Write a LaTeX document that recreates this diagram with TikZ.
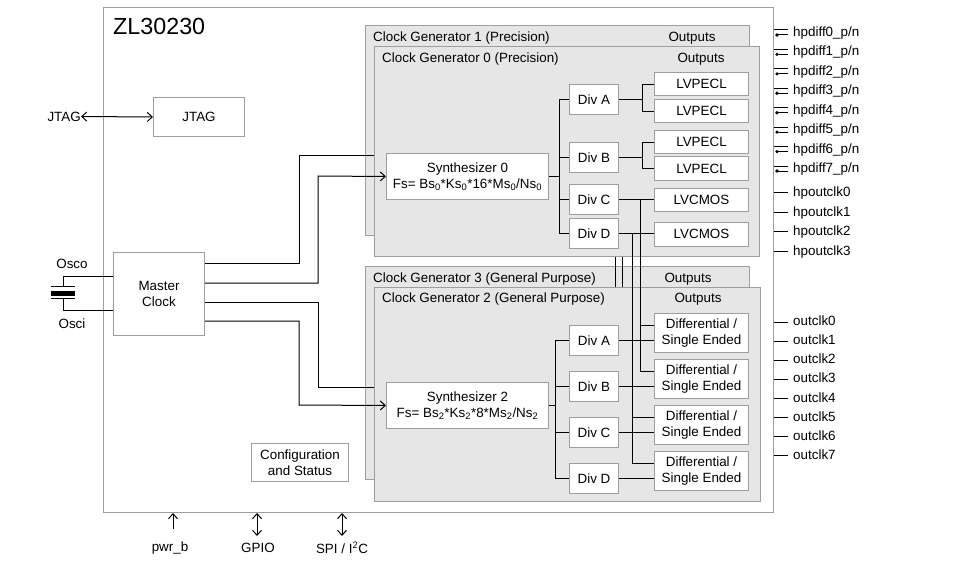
\documentclass[tikz,border=0pt]{standalone}
\usepackage{fontspec}
\setmainfont{Liberation Sans}
\usetikzlibrary{arrows.meta,calc}
\definecolor{frame}{HTML}{9E9E9E}
\definecolor{genfill}{HTML}{E6E6E6}
\tikzset{
  chip/.style={draw=frame, line width=1pt, anchor=north west, inner sep=0pt},
  gen/.style={draw=frame, fill=genfill, line width=1pt, anchor=north west, inner sep=0pt},
  blk/.style={draw=frame, fill=white, line width=1pt, anchor=north west, inner sep=0pt, align=center},
  divbox/.style={blk, minimum width=49pt, minimum height=30pt},
  outbox/.style={blk, minimum width=94pt, minimum height=23.5pt},
  dsebox/.style={blk, minimum width=94pt, minimum height=39pt},
  synbox/.style={blk, minimum width=162pt, minimum height=46pt},
  sig/.style={draw=black, line width=1pt},
  ttl/.style={anchor=west, inner sep=0pt},
  lab/.style={inner sep=0pt},
  pin/.style={anchor=west, inner sep=0pt, text height=9.8pt, text depth=2.8pt},
}

\begin{document}
\begin{tikzpicture}[x=1pt, y=-1pt, font=\fontsize{13.4}{16}\selectfont,
  >={Straight Barb[length=5pt,width=9pt]}]
  \useasboundingbox (0,0) rectangle (954,567);

  % device outline
  \node[chip, minimum width=670pt, minimum height=505pt] (chip) at (103,7) {};
  \node[ttl, font=\fontsize{23.3}{28}\selectfont] (part) at (113,26) {ZL30230};

  % jtag
  \node[blk, minimum width=91pt, minimum height=39pt] (jtag) at (153,97) {JTAG};
  \node[lab, anchor=east] (jtagx) at (81,116.5) {JTAG};
  \draw[sig, <->] (jtagx.east) -- (jtag.west);

  % master clock and crystal
  \node[blk, minimum width=91pt, minimum height=83pt] (mclk) at (113,252) {Master\\Clock};
  \coordinate (xtal) at (63,292);
  \draw[sig] ($(mclk.north west)+(0,24)$) -| ($(xtal)+(0,-6)$);
  \draw[sig] ($(xtal)+(-12,-6)$) -- ++(24,0);
  \fill ($(xtal)+(-12,-1.5)$) rectangle ++(24,5);
  \draw[sig] ($(xtal)+(-12,6)$) -- ++(24,0);
  \draw[sig] ($(xtal)+(0,6)$) |- ($(mclk.north west)+(0,58)$);
  \node[lab] (osco) at (72,264) {Osco};
  \node[lab] (osci) at (72,324) {Osci};

  % clock generator 1 (behind) and 0
  \node[gen, minimum width=384pt, minimum height=210pt] (cg1) at (365,25) {};
  \node[ttl] at (373,38.5) {Clock Generator 1 (Precision)};
  \node[lab] at (692,38.5) {Outputs};
  \coordinate (cg1in) at (374,156);
  \draw[sig] ($(mclk.north east)+(0,11)$) -| (299,156) -- (cg1in);

  \node[gen, minimum width=385pt, minimum height=210pt] (cg0) at (374,46) {};
  \node[ttl] at (382,59) {Clock Generator 0 (Precision)};
  \node[lab] at (701,59) {Outputs};
  \node[synbox] (syn0) at (386,153) {Synthesizer 0\\Fs= Bs\textsubscript{0}*Ks\textsubscript{0}*16*Ms\textsubscript{0}/Ns\textsubscript{0}};
  \draw[sig, ->] ($(mclk.north east)+(0,31)$) -| (318,176) -- (syn0.west);

  \node[divbox] (divA0) at (569,84) {Div A};
  \node[divbox] (divB0) at (569,142) {Div B};
  \node[divbox] (divC0) at (569,184) {Div C};
  \node[divbox] (divD0) at (569,218) {Div D};
  \node[outbox] (pe0) at (654,72) {LVPECL};
  \node[outbox] (pe1) at (654,99) {LVPECL};
  \node[outbox] (pe2) at (654,130) {LVPECL};
  \node[outbox] (pe3) at (654,156.5) {LVPECL};
  \node[outbox] (cm0) at (654,188) {LVCMOS};
  \node[outbox] (cm1) at (654,222) {LVCMOS};

  \coordinate (bus0) at (559,0);
  \coordinate (fan0) at (642,0);
  \draw[sig] (syn0.east) -- (syn0.east -| bus0);
  \draw[sig] (divA0.west -| bus0) -- (divD0.west -| bus0);
  \foreach \d in {A,B,C,D}
    \draw[sig] (div\d0.west -| bus0) -- (div\d0.west);
  \foreach \d/\a/\b in {A/pe0/pe1, B/pe2/pe3} {
    \draw[sig] (div\d0.east) -- (div\d0.east -| fan0);
    \draw[sig] (\a.west) -| (fan0 |- \b.west) -- (\b.west);
  }
  \draw[sig] (divC0.east) -- (divC0.east -| cm0.west);
  \draw[sig] (divD0.east) -- (divD0.east -| cm1.west);

  % clock generator 3 (behind) and 2
  \node[gen, minimum width=384pt, minimum height=213pt] (cg3) at (365,266) {};
  \node[ttl] at (373,279) {Clock Generator 3 (General Purpose)};
  \node[lab] at (688,279) {Outputs};
  \coordinate (cg3in) at (374,387);
  \draw[sig] ($(mclk.north east)+(0,50)$) -| (318,387) -- (cg3in);

  \node[gen, minimum width=386pt, minimum height=214pt] (cg2) at (374,287) {};
  \node[ttl] at (382,299) {Clock Generator 2 (General Purpose)};
  \node[lab] at (698,299) {Outputs};
  \node[synbox] (syn2) at (386,382) {Synthesizer 2\\Fs= Bs\textsubscript{2}*Ks\textsubscript{2}*8*Ms\textsubscript{2}/Ns\textsubscript{2}};
  \draw[sig, ->] ($(mclk.north east)+(0,69)$) -| (299,405) -- (syn2.west);

  \node[divbox] (divA2) at (569,325) {Div A};
  \node[divbox] (divB2) at (569,371) {Div B};
  \node[divbox] (divC2) at (569,417) {Div C};
  \node[divbox] (divD2) at (569,463) {Div D};
  \node[dsebox] (dse0) at (654,313) {Differential /\\Single Ended};
  \node[dsebox] (dse1) at (654,359) {Differential /\\Single Ended};
  \node[dsebox] (dse2) at (654,405) {Differential /\\Single Ended};
  \node[dsebox] (dse3) at (654,451) {Differential /\\Single Ended};

  \coordinate (bus2) at (555,0);
  \draw[sig] (syn2.east) -- (syn2.east -| bus2);
  \draw[sig] (divA2.west -| bus2) -- (divD2.west -| bus2);
  \foreach \d/\o in {A/dse0, B/dse1, C/dse2, D/dse3} {
    \draw[sig] (div\d2.west -| bus2) -- (div\d2.west);
    \draw[sig] (div\d2.east) -- (div\d2.east -| \o.west);
  }

  % links from generator 1 to generator 3 (hidden)
  \foreach \x in {615,622} {
    \coordinate (t) at (\x,0);
    \draw[sig] (cg0.south -| t) -- (cg2.north -| t);
  }

  % div C/D of generator 0 to the general purpose outputs
  \coordinate (tapC) at (640,0);
  \coordinate (tapD) at (632,0);
  \foreach \t/\a/\b in {C/dse0/dse1, D/dse2/dse3} {
    \draw[sig] (div\t0.east -| tap\t) |- ($(\b.north west)+(0,12)$);
    \draw[sig] ($(\a.north west -| tap\t)+(0,12)$) -- ($(\a.north west)+(0,12)$);
  }

  % configuration
  \node[blk, minimum width=97pt, minimum height=38pt] (cfg) at (251,443) {Configuration\\and Status};

  % output pins
  \foreach \i in {0,...,7} {
    \node[pin] (hp\i) at (793,33+19.43*\i) {hpdiff\i\_p/n};
    \draw[sig] ($(hp\i.west -| chip.east)+(0,-3)$) -- ($(hp\i.west)+(-5,-3)$);
    \draw[sig] ($(hp\i.west -| chip.east)+(3,2)$) -- ($(hp\i.west)+(-5,2)$);
    \fill ($(hp\i.west -| chip.east)+(3,2)$) circle (1.8pt);
  }
  \foreach \i in {0,...,3} {
    \node[pin] (hc\i) at (793,193+19.5*\i) {hpoutclk\i};
    \draw[sig] (hc\i.west -| chip.east) -- ($(hc\i.west)+(-5,0)$);
  }
  \foreach \i in {0,...,7} {
    \node[pin] (oc\i) at (793,322+19.14*\i) {outclk\i};
    \draw[sig] (oc\i.west -| chip.east) -- ($(oc\i.west)+(-5,0)$);
  }

  % control pins
  \node[lab] (pwr) at (170,548) {pwr\_b};
  \node[lab] (gpio) at (258,548) {GPIO};
  \node[lab] (spi) at (342,548) {SPI / I\textsuperscript{2}C};
  \coordinate (pwrpin) at (173,529);
  \coordinate (gpiopin) at (257,536);
  \coordinate (spipin) at (342,536);
  \draw[sig, ->] (pwrpin) -- (pwrpin |- chip.south);
  \draw[sig, <->] (gpiopin) -- (gpiopin |- chip.south);
  \draw[sig, <->] (spipin) -- (spipin |- chip.south);
\end{tikzpicture}
\end{document}
